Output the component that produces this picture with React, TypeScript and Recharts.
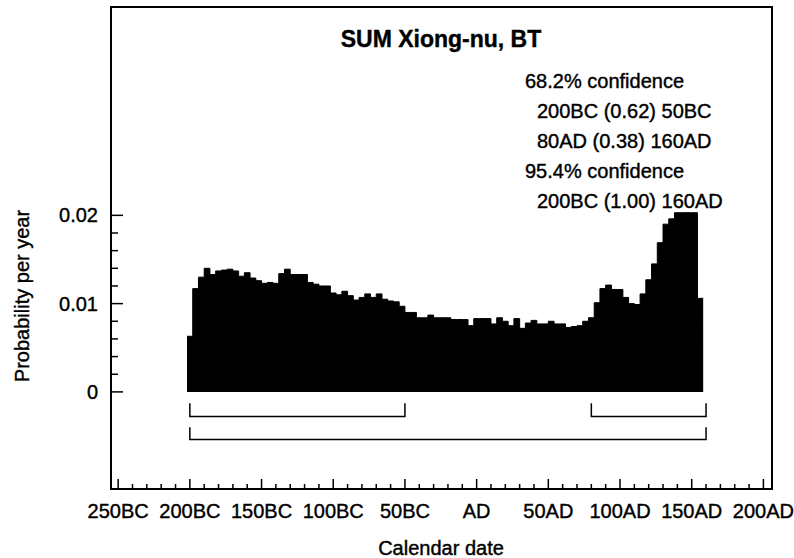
import React from "react";
import { ComposedChart, Area, Line, XAxis, YAxis, ReferenceArea } from "recharts";

// probability per year, 4-year bins centred on 200BC, 196BC ... 156AD
const probability = [
  0.0063, 0.0117, 0.013, 0.014, 0.0133, 0.0137, 0.0138, 0.0139, 0.0137, 0.0131,
  0.0135, 0.0129, 0.0126, 0.0123, 0.0124, 0.0123, 0.0134, 0.0139, 0.0133, 0.0133,
  0.0133, 0.0124, 0.0122, 0.012, 0.012, 0.0112, 0.011, 0.0114, 0.0109, 0.0104,
  0.0107, 0.0111, 0.0107, 0.0111, 0.0105, 0.0103, 0.0102, 0.0097, 0.009, 0.009,
  0.0084, 0.0084, 0.0087, 0.0084, 0.0084, 0.0084, 0.0082, 0.0082, 0.0082, 0.0075,
  0.0083, 0.0083, 0.0083, 0.0077, 0.0084, 0.008, 0.0075, 0.0083, 0.0072, 0.0078,
  0.0081, 0.0077, 0.0077, 0.008, 0.0077, 0.0077, 0.0073, 0.0074, 0.0075, 0.008,
  0.0084, 0.0101, 0.0117, 0.0121, 0.0116, 0.0116, 0.0107, 0.01, 0.0099, 0.0111,
  0.0127, 0.0145, 0.0169, 0.019, 0.0196, 0.0203, 0.0203, 0.0203, 0.0203, 0.0106,
];
const firstBin = -200;
const binWidth = 4;

// confidence ranges (calendar years, negative = BC)
const range68 = [
  [-200, -50],
  [80, 160],
];
const range95 = [[-200, 160]];

const xMajorTicks = [-250, -200, -150, -100, -50, 0, 50, 100, 150, 200];
const xTickLabels = ["250BC", "200BC", "150BC", "100BC", "50BC", "AD", "50AD", "100AD", "150AD", "200AD"];
const yMajorTicks = [0, 0.01, 0.02];
const yTickLabels = ["0", "0.01", "0.02"];

const title = "SUM Xiong-nu, BT";
const notes = [
  { text: "68.2% confidence", indent: false },
  { text: "200BC (0.62) 50BC", indent: true },
  { text: "80AD (0.38) 160AD", indent: true },
  { text: "95.4% confidence", indent: false },
  { text: "200BC (1.00) 160AD", indent: true },
];

const FONT = "'Liberation Sans', Arial, sans-serif";
const xDomain = [-255, 206];
const yDomain = [-0.011, 0.0436];

// step edges for the histogram
const histData = probability.map((p, i) => ({ year: firstBin + i * binWidth - binWidth / 2, p }));
histData.push({
  year: firstBin + (probability.length - 1) * binWidth + binWidth / 2,
  p: probability[probability.length - 1],
});

const xTicks: number[] = [];
for (let v = -250; v <= 200; v += 10) xTicks.push(v);
const yTicks: number[] = [];
for (let i = 0; i <= 10; i++) yTicks.push(Math.round(i * 2) / 1000);

const bracket = (lo: number, hi: number, level: number, tip: number) => [
  { year: lo, p: tip },
  { year: lo, p: level },
  { year: hi, p: level },
  { year: hi, p: tip },
];

const brackets = [
  ...range68.map(([a, b]) => bracket(a, b, -0.0028, -0.0013)),
  ...range95.map(([a, b]) => bracket(a, b, -0.0054, -0.004)),
];

// scanned print looks a little heavier than plain Arial
const inkText = { fill: "#000", stroke: "#000", strokeWidth: 0.4 };

const XTick = (props: any) => {
  const { x, y, payload } = props;
  const idx = xMajorTicks.indexOf(payload.value);
  return (
    <g>
      <line x1={x} x2={x} y1={y} y2={y - (idx >= 0 ? 10 : 5)} stroke="#000" strokeWidth={1.5} />
      {idx >= 0 && (
        <text x={x} y={y + 29} textAnchor="middle" fontFamily={FONT} fontSize={20} {...inkText}>
          {xTickLabels[idx]}
        </text>
      )}
    </g>
  );
};

const YTick = (props: any) => {
  const { x, y, payload } = props;
  const idx = yMajorTicks.findIndex((t) => Math.abs(t - payload.value) < 1e-9);
  return (
    <g>
      <line x1={x} x2={x + (idx >= 0 ? 12 : 7)} y1={y} y2={y} stroke="#000" strokeWidth={1.5} />
      {idx >= 0 && (
        <text x={x - 13} y={y + 7} textAnchor="end" fontFamily={FONT} fontSize={20} {...inkText}>
          {yTickLabels[idx]}
        </text>
      )}
    </g>
  );
};

export default function App() {
  return (
    <div style={{ position: "absolute", left: 0, top: 0, width: 794, height: 558, background: "#fff" }}>
      <ComposedChart
        width={794}
        height={558}
        data={histData}
        margin={{ top: 7, right: 22, bottom: 0, left: 0 }}
      >
        <XAxis
          type="number"
          dataKey="year"
          domain={xDomain}
          allowDataOverflow
          ticks={xTicks}
          interval={0}
          height={69}
          tickSize={0}
          tickMargin={0}
          axisLine={false}
          tickLine={false}
          tick={XTick}
        />
        <YAxis
          type="number"
          domain={yDomain}
          allowDataOverflow
          ticks={yTicks}
          interval={0}
          width={111}
          tickSize={0}
          tickMargin={0}
          axisLine={false}
          tickLine={false}
          tick={YTick}
        />
        <Area
          type="stepAfter"
          dataKey="p"
          baseValue={0}
          stroke="#000"
          strokeWidth={1}
          fill="#000"
          fillOpacity={1}
          isAnimationActive={false}
          dot={false}
          activeDot={false}
        />
        {brackets.map((d, i) => (
          <Line
            key={i}
            data={d}
            dataKey="p"
            type="linear"
            stroke="#000"
            strokeWidth={1.5}
            dot={false}
            activeDot={false}
            isAnimationActive={false}
          />
        ))}
        <ReferenceArea
          x1={xDomain[0]}
          x2={xDomain[1]}
          y1={yDomain[0]}
          y2={yDomain[1]}
          fill="none"
          stroke="#000"
          strokeWidth={2}
          ifOverflow="visible"
        />
      </ComposedChart>
      <svg
        width={794}
        height={558}
        style={{ position: "absolute", left: 0, top: 0, pointerEvents: "none" }}
        fontFamily={FONT}
        {...inkText}
      >
        <text x={441} y={47} textAnchor="middle" fontSize={23} fontWeight="bold">
          {title}
        </text>
        {notes.map((n, i) => (
          <text key={i} x={n.indent ? 537 : 525} y={88 + i * 30} fontSize={20}>
            {n.text}
          </text>
        ))}
        <text x={441} y={555} textAnchor="middle" fontSize={20}>
          Calendar date
        </text>
        <text x={29} y={296} textAnchor="middle" fontSize={20} transform="rotate(-90, 29, 296)">
          Probability per year
        </text>
      </svg>
    </div>
  );
}
